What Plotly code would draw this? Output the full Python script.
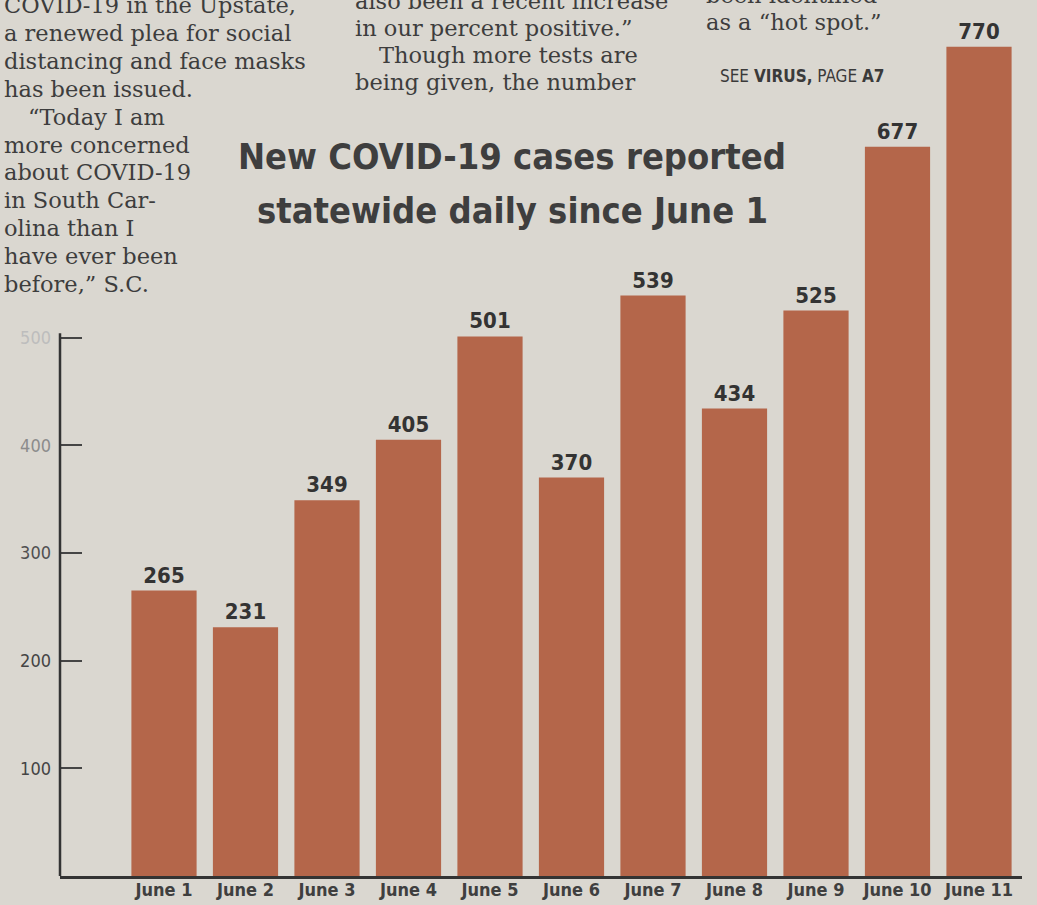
import plotly.graph_objects as go

# ---- data ----
days = ["June 1", "June 2", "June 3", "June 4", "June 5", "June 6",
        "June 7", "June 8", "June 9", "June 10", "June 11"]
cases = [265, 231, 349, 405, 501, 370, 539, 434, 525, 677, 770]
ytick_vals = [100, 200, 300, 400, 500]
ytick_text = ["100", "200", "300", "400", "500"]

title_lines = ["New COVID-19 cases reported", "statewide daily since June 1"]

col_left = ["COVID-19 in the Upstate,", "a renewed plea for social",
            "distancing and face masks", "has been issued.",
            "\u201cToday I am", "more concerned", "about COVID-19",
            "in South Car-", "olina than I", "have ever been",
            "before,\u201d S.C."]
col_mid = ["also been a recent increase", "in our percent positive.\u201d",
           "Though more tests are", "being given, the number"]
col_right = ["been identified", "as a \u201chot spot.\u201d"]

W, H = 1037, 905
BG = "#dad7d0"
BAR = "#b4664a"
INK = "#3d3d3d"
COND = "DejaVu Sans Condensed, Liberation Sans Narrow, Roboto, sans-serif"
SERIF = "DejaVu Serif, Liberation Serif, serif"

def py(px):
    return 1 - px / H

fig = go.Figure()
fig.add_trace(go.Bar(
    x=days, y=cases,
    marker=dict(color=BAR, line=dict(width=0)),
    text=cases, texttemplate="<b>%{text}</b>", textposition="outside",
    textfont=dict(family=COND, size=22, color="#333333"),
    cliponaxis=False, hoverinfo="skip",
))

# faded tick labels near the top (print wear)
tick_cols = ["#444444", "#444444", "#505050", "#8c8c8c", "#bdbdbd"]
ticktext = [f'<span style="color:{c}">{t}</span>' for t, c in zip(ytick_text, tick_cols)]

base_px = 876
top_px = 0
px_per_unit = 1.077
x_left_px, x_right_px = 60, 1022
c0_px, step_px = 164, 81.5
fig.update_layout(
    width=W, height=H,
    margin=dict(l=0, r=0, t=0, b=0),
    paper_bgcolor=BG, plot_bgcolor="rgba(0,0,0,0)",
    showlegend=False, bargap=0.2,
    xaxis=dict(
        domain=[x_left_px / W, x_right_px / W],
        range=[(x_left_px - c0_px) / step_px, (x_right_px - c0_px) / step_px],
        showline=True, linecolor="#333333", linewidth=2.5,
        ticks="", showgrid=False, zeroline=False,
        tickfont=dict(family=COND, size=18, color="#3f3f3f", weight="bold"),
        ticklabelstandoff=-4,
    ),
    yaxis=dict(
        domain=[(H - base_px) / H, 1 - top_px / H],
        range=[0, (base_px - top_px) / px_per_unit],
        showline=False,
        ticks="inside", ticklen=22, tickwidth=2, tickcolor="#454545",
        tickvals=ytick_vals, ticktext=ticktext,
        showgrid=False, zeroline=False,
        tickfont=dict(family=COND, size=18, color="#444444"),
        ticklabelstandoff=8,
    ),
)

# vertical axis line only spans up to the top tick (as in print)
fig.add_shape(type="line", xref="paper", yref="y",
              x0=x_left_px / W, x1=x_left_px / W, y0=0, y1=ytick_vals[-1] + 4,
              line=dict(color="#333333", width=2.5))

# title
for i, line in enumerate(title_lines):
    fig.add_annotation(
        xref="paper", yref="paper", x=512 / W, y=py(157 + i * 54),
        text=f"<b>{line}</b>", showarrow=False, xanchor="center", yanchor="middle",
        font=dict(family=COND, size=36, color="#3e3e3e"),
    )

# newspaper body text
def column(lines, x0, y0, step, indents):
    for i, line in enumerate(lines):
        fig.add_annotation(
            xref="paper", yref="paper", x=(x0 + indents.get(i, 0)) / W, y=py(y0 + i * step),
            text=line, showarrow=False, xanchor="left", yanchor="middle",
            font=dict(family=SERIF, size=22.5, color=INK),
        )

column(col_left, 2, 5, 27.9, {4: 24})
column(col_mid, 353, 1, 27.0, {2: 24})
column(col_right, 704, -5, 27.5, {})

fig.add_annotation(
    xref="paper", yref="paper", x=718 / W, y=py(76),
    text="SEE <b>VIRUS,</b> PAGE <b>A7</b>", showarrow=False,
    xanchor="left", yanchor="middle",
    font=dict(family=COND, size=17, color="#3a3a3a"),
)

fig.write_html("out.html", config={"displayModeBar": False},
               post_script="document.body.style.margin='0';document.body.style.overflow='hidden';")
